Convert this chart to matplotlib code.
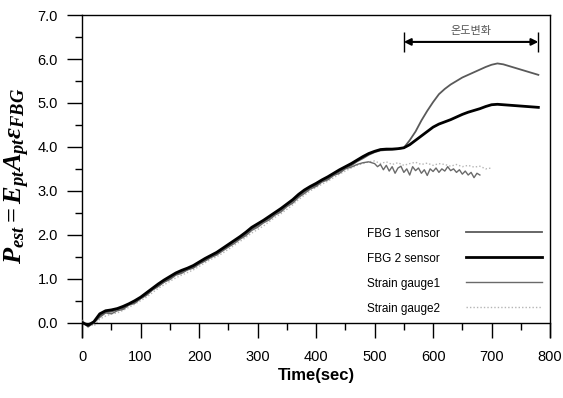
import numpy as np
import matplotlib
matplotlib.use("Agg")
import matplotlib.pyplot as plt
from matplotlib.ticker import MultipleLocator, FormatStrFormatter

plt.rcParams["font.family"] = ["Liberation Sans", "DejaVu Sans"]
plt.rcParams["mathtext.fontset"] = "custom"
plt.rcParams["mathtext.it"] = "Liberation Serif:italic:bold"
plt.rcParams["mathtext.rm"] = "Liberation Serif:bold"

# FBG sensors, 10 s steps 0..780
fbg_time = np.arange(0, 790, 10)
fbg2_vals = [0.00, -0.06, 0.02, 0.20, 0.27, 0.29, 0.32, 0.37, 0.43, 0.50,
             0.58, 0.68, 0.78, 0.88, 0.97, 1.05, 1.13, 1.19, 1.24, 1.30,
             1.38, 1.46, 1.53, 1.60, 1.69, 1.78, 1.87, 1.96, 2.06, 2.17,
             2.25, 2.33, 2.42, 2.51, 2.60, 2.70, 2.80, 2.92, 3.02, 3.10,
             3.17, 3.25, 3.32, 3.40, 3.48, 3.55, 3.62, 3.70, 3.78, 3.85,
             3.90, 3.94, 3.95, 3.95, 3.96, 3.98, 4.05, 4.15, 4.25, 4.35,
             4.45, 4.52, 4.57, 4.62, 4.68, 4.74, 4.79, 4.83, 4.87, 4.92,
             4.96, 4.97, 4.96, 4.95, 4.94, 4.93, 4.92, 4.91, 4.90]
fbg1_vals = [0.00, -0.08, 0.00, 0.15, 0.24, 0.25, 0.30, 0.33, 0.41, 0.46,
             0.55, 0.64, 0.75, 0.84, 0.93, 1.01, 1.10, 1.15, 1.21, 1.26,
             1.35, 1.42, 1.50, 1.56, 1.66, 1.74, 1.84, 1.92, 2.02, 2.13,
             2.21, 2.30, 2.38, 2.48, 2.56, 2.67, 2.76, 2.88, 2.98, 3.07,
             3.13, 3.22, 3.28, 3.37, 3.44, 3.52, 3.58, 3.67, 3.74, 3.82,
             3.88, 3.92, 3.93, 3.94, 3.95, 3.98, 4.15, 4.35, 4.60, 4.82,
             5.02, 5.20, 5.32, 5.42, 5.50, 5.58, 5.64, 5.70, 5.76, 5.82,
             5.87, 5.90, 5.88, 5.84, 5.80, 5.76, 5.72, 5.68, 5.64]

# strain gauge 1: 10 s steps to 490, then 5 s steps to 680
sg1_time = np.concatenate([np.arange(0, 500, 10), np.arange(500, 685, 5)])
sg1_vals = [0.05, -0.10, 0.00, 0.12, 0.22, 0.20, 0.27, 0.30, 0.40, 0.44,
            0.55, 0.62, 0.74, 0.82, 0.92, 0.98, 1.08, 1.12, 1.20, 1.24,
            1.33, 1.40, 1.48, 1.54, 1.63, 1.72, 1.80, 1.90, 1.98, 2.10,
            2.17, 2.27, 2.34, 2.45, 2.52, 2.64, 2.72, 2.85, 2.94, 3.04,
            3.10, 3.20, 3.25, 3.35, 3.40, 3.50, 3.54, 3.60, 3.64, 3.66,
            3.62, 3.55, 3.60, 3.48, 3.58, 3.45, 3.55, 3.40, 3.52, 3.56,
            3.42, 3.50, 3.36, 3.55, 3.46, 3.52, 3.40, 3.48, 3.35, 3.50,
            3.44, 3.52, 3.42, 3.50, 3.45, 3.55, 3.46, 3.50, 3.42, 3.48,
            3.38, 3.45, 3.36, 3.42, 3.30, 3.40, 3.36]

# strain gauge 2: 10 s steps 0..700
sg2_time = np.arange(0, 710, 10)
sg2_vals = [-0.05, 0.00, -0.08, 0.08, 0.15, 0.20, 0.22, 0.28, 0.35, 0.42,
            0.50, 0.58, 0.68, 0.78, 0.86, 0.94, 1.02, 1.08, 1.14, 1.20,
            1.28, 1.36, 1.44, 1.50, 1.58, 1.67, 1.76, 1.85, 1.94, 2.04,
            2.12, 2.20, 2.30, 2.40, 2.48, 2.58, 2.68, 2.80, 2.90, 3.00,
            3.08, 3.15, 3.22, 3.30, 3.38, 3.45, 3.52, 3.58, 3.62, 3.66,
            3.68, 3.62, 3.66, 3.60, 3.64, 3.58, 3.62, 3.65, 3.60, 3.63,
            3.58, 3.62, 3.60, 3.56, 3.60, 3.55, 3.58, 3.54, 3.56, 3.50,
            3.52]

span_start, span_end, span_level = 550, 780, 6.39
span_label = "온도변화"

fig = plt.figure(figsize=(5.63, 3.98), dpi=100)
ax = fig.add_axes([0.146, 0.153, 0.831, 0.809])

ax.plot(sg2_time, sg2_vals, color="#b5b5b5", lw=1.0, ls=(0, (1, 1.5)), label="Strain gauge2", zorder=2)
ax.plot(sg1_time, sg1_vals, color="#6a6a6a", lw=1.0, label="Strain gauge1", zorder=3)
ax.plot(fbg_time, fbg1_vals, color="#5a5a5a", lw=1.3, label="FBG 1 sensor", zorder=4)
ax.plot(fbg_time, fbg2_vals, color="black", lw=2.0, label="FBG 2 sensor", zorder=5)

ax.set_xlim(0, 800)
ax.set_ylim(-0.33, 7.0)
ax.spines["bottom"].set_position(("data", 0))
for s in ax.spines.values():
    s.set_linewidth(1.0)

ax.xaxis.set_major_locator(MultipleLocator(100))
ax.xaxis.set_minor_locator(MultipleLocator(50))
ax.yaxis.set_major_locator(MultipleLocator(1.0))
ax.yaxis.set_minor_locator(MultipleLocator(0.5))
ax.yaxis.set_major_formatter(FormatStrFormatter("%.1f"))
ax.tick_params(which="major", direction="out", length=10.5, width=1, labelsize=10.5, pad=7)
ax.tick_params(which="minor", direction="out", length=5, width=1)
ax.tick_params(axis="x", which="major", pad=9)

ax.set_xlabel("Time(sec)", fontsize=12, fontweight="bold", labelpad=3)
ax.set_ylabel(r"$P_{est}=E_{pt}A_{pt}\varepsilon_{FBG}$", fontsize=19, labelpad=4)

# temperature-change span
ax.annotate("", xy=(span_start, span_level), xytext=(span_end, span_level),
            arrowprops=dict(arrowstyle="<|-|>", color="black", lw=1.5, mutation_scale=10,
                            shrinkA=0, shrinkB=0))
ax.vlines([span_start, span_end], span_level - 0.22, span_level + 0.22, color="black", lw=1)
ax.text((span_start + span_end) / 2, span_level + 0.14, span_label,
        family=["Noto Sans CJK KR", "DejaVu Sans"], fontsize=8, color="#555555",
        ha="center", va="bottom")

h, l = ax.get_legend_handles_labels()
order = [2, 3, 1, 0]
ax.legend([h[i] for i in order], [l[i] for i in order], loc="lower right",
          bbox_to_anchor=(1.005, 0.037), frameon=False, markerfirst=False,
          fontsize=8.5, handlelength=6.4, labelspacing=1.1, handletextpad=2.2)

fig.savefig("out.png", dpi=100)
